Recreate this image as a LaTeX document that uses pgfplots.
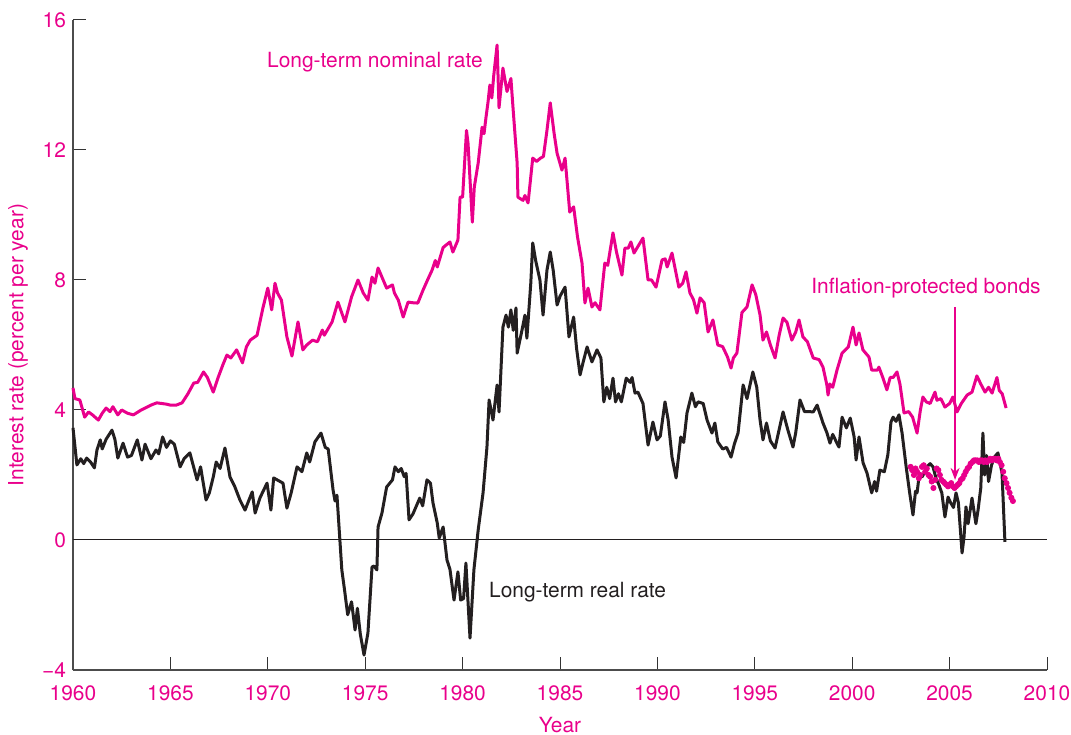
\documentclass[border=0pt]{standalone}
\usepackage{fontspec}
\setmainfont{TeX Gyre Heros}
\usepackage{pgfplots}
\pgfplotsset{compat=1.18}
\usetikzlibrary{arrows.meta}
\definecolor{mag}{RGB}{233,0,139}
\definecolor{blk}{RGB}{35,31,32}
\pgfplotstableread{
x y
1960.0 4.68
1960.1 4.35
1960.35 4.31
1960.6 3.78
1960.8 3.94
1961.0 3.85
1961.3 3.69
1961.5 3.9
1961.7 4.06
1961.9 3.95
1962.05 4.1
1962.3 3.85
1962.5 4.0
1962.8 3.9
1963.1 3.85
1963.5 4.0
1964.0 4.15
1964.3 4.22
1964.8 4.18
1965.0 4.15
1965.3 4.15
1965.6 4.22
1965.9 4.5
1966.2 4.83
1966.4 4.85
1966.7 5.17
1966.9 5.0
1967.2 4.55
1967.45 5.0
1967.7 5.4
1967.9 5.69
1968.1 5.6
1968.4 5.85
1968.7 5.45
1968.9 5.94
1969.1 6.15
1969.45 6.3
1969.75 7.14
1970.0 7.75
1970.2 7.08
1970.37 7.9
1970.5 7.6
1970.7 7.38
1970.98 6.25
1971.24 5.66
1971.55 6.71
1971.8 5.85
1972.0 6.0
1972.3 6.15
1972.55 6.1
1972.8 6.46
1972.9 6.3
1973.3 6.71
1973.6 7.32
1973.96 6.71
1974.3 7.48
1974.63 8.0
1974.9 7.6
1975.14 7.38
1975.35 8.09
1975.5 7.9
1975.66 8.37
1976.1 7.75
1976.4 7.85
1976.5 7.6
1976.7 7.38
1976.95 6.86
1977.2 7.32
1977.45 7.3
1977.7 7.29
1977.97 7.69
1978.2 8.0
1978.43 8.3
1978.6 8.6
1978.7 8.4
1979.0 9.0
1979.35 9.17
1979.5 8.86
1979.76 9.23
1979.87 10.55
1980.0 10.55
1980.2 12.6
1980.28 12.2
1980.5 9.78
1980.6 10.86
1980.8 11.6
1981.0 12.7
1981.1 12.5
1981.2 13.0
1981.3 13.45
1981.4 14.0
1981.5 13.6
1981.6 14.3
1981.77 15.23
1981.87 13.3
1982.07 14.52
1982.28 13.8
1982.48 14.2
1982.6 13.2
1982.8 11.6
1982.84 10.55
1983.1 10.45
1983.2 10.6
1983.36 10.37
1983.6 11.75
1983.8 11.65
1984.0 11.75
1984.15 11.8
1984.33 12.6
1984.5 13.45
1984.7 12.5
1984.85 11.9
1985.1 11.38
1985.26 11.75
1985.5 10.09
1985.7 10.25
1985.9 9.32
1986.13 8.52
1986.28 7.29
1986.44 7.75
1986.64 7.17
1986.8 7.3
1987.05 7.08
1987.3 8.52
1987.45 8.45
1987.72 9.45
1987.9 8.86
1988.18 8.15
1988.33 8.98
1988.5 8.98
1988.64 9.17
1988.8 8.83
1989.26 9.29
1989.52 8.0
1989.7 8.0
1989.93 7.78
1990.24 8.62
1990.4 8.65
1990.5 8.4
1990.75 8.83
1991.1 7.78
1991.3 7.9
1991.47 8.25
1991.67 7.6
1991.85 7.4
1992.03 6.98
1992.19 7.45
1992.4 7.3
1992.6 6.4
1992.85 6.77
1993.1 6.0
1993.35 5.95
1993.6 5.63
1993.78 5.29
1993.9 5.6
1994.08 5.75
1994.34 7.0
1994.6 7.17
1994.86 7.85
1995.05 7.55
1995.27 6.92
1995.42 6.15
1995.6 6.4
1995.8 6.0
1996.04 5.6
1996.25 6.3
1996.45 6.83
1996.65 6.7
1996.9 6.15
1997.1 6.4
1997.27 6.77
1997.47 6.25
1997.7 6.1
1998.0 5.6
1998.3 5.55
1998.5 5.32
1998.7 4.77
1998.76 4.46
1998.85 4.8
1999.0 4.7
1999.22 5.23
1999.48 5.75
1999.8 5.94
2000.04 6.55
2000.2 6.0
2000.35 6.37
2000.55 5.85
2000.86 5.63
2001.0 5.23
2001.3 5.23
2001.37 5.32
2001.57 5.0
2001.78 4.62
2001.95 5.0
2002.1 5.0
2002.3 5.17
2002.45 4.8
2002.66 3.91
2002.9 3.95
2003.1 3.78
2003.33 3.29
2003.5 4.0
2003.63 4.4
2003.8 4.25
2004.0 4.2
2004.25 4.55
2004.35 4.3
2004.55 4.35
2004.76 4.09
2005.0 4.2
2005.17 4.4
2005.38 3.94
2005.6 4.2
2005.9 4.46
2006.15 4.55
2006.4 5.05
2006.6 4.8
2006.82 4.55
2007.0 4.7
2007.18 4.52
2007.43 5.0
2007.55 4.6
2007.7 4.5
2007.9 4.06
}\nominal
\pgfplotstableread{
x y
1960.0 3.45
1960.2 2.31
1960.4 2.5
1960.55 2.35
1960.7 2.52
1960.9 2.4
1961.1 2.22
1961.23 2.77
1961.4 3.08
1961.5 2.8
1961.7 3.1
1962.0 3.38
1962.15 3.1
1962.3 2.52
1962.57 2.98
1962.8 2.55
1963.0 2.6
1963.3 3.08
1963.54 2.46
1963.7 2.95
1964.0 2.5
1964.26 2.77
1964.4 2.65
1964.6 3.17
1964.8 2.85
1965.0 3.05
1965.2 2.95
1965.5 2.25
1965.7 2.5
1966.0 2.68
1966.37 1.85
1966.55 2.25
1966.83 1.23
1967.0 1.45
1967.2 1.94
1967.35 2.4
1967.55 2.2
1967.8 2.83
1968.06 1.94
1968.3 1.65
1968.57 1.23
1968.83 0.92
1969.2 1.48
1969.35 0.83
1969.6 1.3
1969.96 1.75
1970.16 0.92
1970.3 1.91
1970.78 1.75
1970.98 0.98
1971.2 1.45
1971.5 2.25
1971.75 2.1
1972.0 2.68
1972.15 2.4
1972.42 3.02
1972.73 3.29
1972.95 2.85
1973.1 2.8
1973.35 1.54
1973.45 1.2
1973.55 1.38
1973.8 -0.92
1973.96 -1.63
1974.1 -2.3
1974.3 -1.9
1974.48 -2.77
1974.6 -2.1
1974.75 -2.9
1974.94 -3.54
1975.14 -2.86
1975.35 -0.83
1975.45 -0.8
1975.6 -0.92
1975.66 0.4
1975.86 0.83
1976.1 1.63
1976.4 1.85
1976.53 2.25
1976.7 2.1
1976.85 2.2
1977.0 1.95
1977.1 2.05
1977.25 0.62
1977.45 0.8
1977.8 1.29
1977.95 1.05
1978.17 1.85
1978.35 1.75
1978.48 1.14
1978.7 0.52
1978.8 0.06
1979.0 0.4
1979.2 -0.62
1979.35 -0.9
1979.56 -1.85
1979.76 -0.98
1979.9 -1.85
1980.05 -1.8
1980.17 -0.71
1980.38 -3.02
1980.58 -0.92
1980.8 0.31
1981.05 1.45
1981.25 2.86
1981.36 4.31
1981.56 3.69
1981.77 4.77
1981.87 3.94
1982.07 6.55
1982.23 6.92
1982.35 6.55
1982.48 7.08
1982.6 6.45
1982.74 7.14
1982.8 5.75
1983.05 6.46
1983.2 6.92
1983.3 6.21
1983.5 7.9
1983.6 9.14
1983.75 8.6
1983.97 8.0
1984.13 6.92
1984.33 8.3
1984.5 8.86
1984.65 8.3
1984.85 7.23
1985.0 7.5
1985.26 7.78
1985.46 6.25
1985.7 6.86
1985.85 5.9
1986.03 5.08
1986.2 5.5
1986.39 5.94
1986.64 5.48
1986.9 5.85
1987.1 5.6
1987.25 4.25
1987.4 4.7
1987.55 4.35
1987.72 4.98
1987.85 4.25
1988.0 4.5
1988.15 4.25
1988.4 4.98
1988.6 4.85
1988.7 5.0
1988.85 4.52
1989.0 4.55
1989.26 4.2
1989.52 2.92
1989.77 3.63
1989.98 3.08
1990.15 3.2
1990.39 4.25
1990.55 3.7
1990.75 2.55
1990.96 1.91
1991.2 3.17
1991.35 3.0
1991.52 3.91
1991.77 4.52
1991.95 4.1
1992.09 4.25
1992.35 4.2
1992.55 3.69
1992.8 3.29
1992.95 3.6
1993.1 3.02
1993.35 2.8
1993.55 2.85
1993.78 2.55
1993.95 2.95
1994.14 3.29
1994.4 4.77
1994.6 4.35
1994.9 5.17
1995.1 4.7
1995.27 3.69
1995.42 3.08
1995.6 3.6
1995.8 3.05
1996.04 2.83
1996.45 3.94
1996.7 3.38
1996.96 2.86
1997.1 3.3
1997.32 4.31
1997.55 3.95
1997.8 3.95
1998.0 3.94
1998.2 4.15
1998.5 3.6
1998.7 3.3
1998.86 2.98
1999.0 3.25
1999.2 3.0
1999.32 2.86
1999.48 3.78
1999.7 3.45
1999.9 3.75
2000.1 3.17
2000.2 2.46
2000.35 3.17
2000.56 2.37
2000.76 2.06
2001.0 1.45
2001.15 1.8
2001.25 1.5
2001.42 2.15
2001.65 2.1
2001.83 2.62
2001.99 3.63
2002.1 3.78
2002.25 3.65
2002.4 3.85
2002.56 3.29
2002.77 2.25
2002.95 1.45
2003.12 0.77
2003.25 1.5
2003.33 1.45
2003.45 2.05
2003.6 1.95
2003.84 2.25
2004.0 2.35
2004.15 2.25
2004.3 1.9
2004.45 1.7
2004.6 1.45
2004.76 0.71
2004.92 1.32
2005.05 1.15
2005.2 1.0
2005.33 1.45
2005.45 1.15
2005.64 -0.4
2005.74 0.09
2005.84 1.02
2005.95 0.5
2006.15 1.29
2006.35 0.5
2006.46 0.92
2006.6 1.6
2006.71 3.29
2006.8 2.0
2006.9 2.6
2007.0 1.8
2007.15 2.3
2007.3 2.55
2007.48 2.68
2007.69 2.06
2007.84 -0.06
}\real
\pgfplotstableread{
x y
2003.0 2.25
2003.08 2.15
2003.17 2.0
2003.25 2.2
2003.33 2.1
2003.42 1.9
2003.5 2.0
2003.58 2.25
2003.67 2.3
2003.75 2.1
2003.83 2.2
2003.92 2.0
2004.0 1.95
2004.08 1.8
2004.17 1.6
2004.25 1.85
2004.33 2.2
2004.42 2.15
2004.5 2.0
2004.58 1.85
2004.67 1.8
2004.75 1.75
2004.83 1.7
2004.92 1.65
2005.0 1.7
2005.08 1.75
2005.17 1.65
2005.25 1.6
2005.33 1.65
2005.42 1.7
2005.5 1.75
2005.58 1.85
2005.67 1.9
2005.75 2.0
2005.83 2.1
2005.92 2.2
2006.0 2.25
2006.08 2.35
2006.17 2.4
2006.25 2.45
2006.33 2.45
2006.42 2.45
2006.5 2.4
2006.58 2.45
2006.67 2.45
2006.75 2.4
2006.83 2.45
2006.92 2.4
2007.0 2.45
2007.08 2.5
2007.17 2.45
2007.25 2.5
2007.33 2.5
2007.42 2.45
2007.5 2.5
2007.58 2.4
2007.67 2.3
2007.75 2.1
2007.83 1.9
2007.92 1.75
2008.0 1.6
2008.08 1.45
2008.17 1.3
2008.25 1.2
}\tips
\begin{document}
\begin{tikzpicture}
\useasboundingbox (-36.5bp,-32.5bp) rectangle (499bp,335bp);
\begin{axis}[
  at={(0,0)}, anchor=south west,
  width=487bp, height=325bp, scale only axis,
  xmin=1960, xmax=2010, ymin=-4, ymax=16,
  axis x line=bottom, axis y line=left,
  axis line style={-, draw=black!70, line width=0.75bp},
  xtick={1960,1965,...,2010},
  xticklabels={1960,1965,1970,1975,1980,1985,1990,1995,2000,2005,2010},
  ytick={-4,0,4,8,12,16},
  yticklabels={−4,0,4,8,12,16},
  tick align=inside, major tick length=6.5bp,
  tick style={draw=black!80, line width=0.5bp},
  ticklabel style={text=mag, font=\fontsize{10.5}{12}\selectfont},
  xticklabel style={yshift=-4.5bp},
  xlabel={Year}, ylabel={Interest rate (percent per year)},
  label style={text=mag, font=\fontsize{10.5}{12}\selectfont},
  xlabel style={at={(axis description cs:0.5,-0.085)}, anchor=center},
  ylabel style={at={(axis description cs:-0.0565,0.5)}, anchor=center},
  clip=false,
]
\draw[blk, line width=0.5bp] (axis cs:1960,0) -- (axis cs:2010,0);
\addplot[mag, line width=1.5bp, line join=round] table {\nominal};
\addplot[only marks, mark=*, mark size=1.3bp, mag, mark options={draw=mag, fill=mag}] table {\tips};
\addplot[blk, line width=1.5bp, line join=round] table {\real};
\draw[mag, line width=0.6bp, -{Stealth[length=6bp,width=4.5bp]}] (axis cs:2005.28,7.17) -- (axis cs:2005.28,1.85);
\node[mag, font=\fontsize{10.5}{12}\selectfont] at (axis cs:1975.5,14.71) {Long-term nominal rate};
\node[blk, anchor=west, font=\fontsize{10.5}{12}\selectfont] at (axis cs:1981.0,-1.6) {Long-term real rate};
\node[mag, font=\fontsize{10.5}{12}\selectfont] at (axis cs:2003.79,7.75) {Inflation-protected bonds};
\end{axis}
\end{tikzpicture}
\end{document}
